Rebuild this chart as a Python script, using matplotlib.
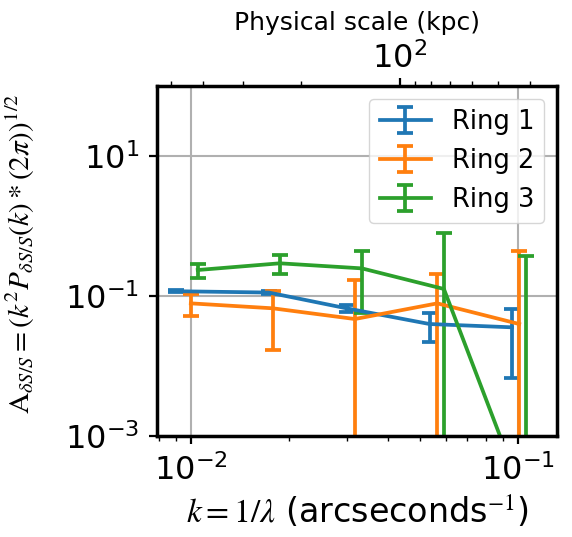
import numpy as np
import matplotlib
matplotlib.use("Agg")
import matplotlib.pyplot as plt
from matplotlib.ticker import LogLocator, NullLocator, NullFormatter

# ── Data ─────────────────────────────────────────────────────────────────────
k_ring1   = [0.0090, 0.0173, 0.0299, 0.0536, 0.0957]
amp_ring1 = [0.117, 0.112, 0.0667, 0.0398, 0.0357]
err_ring1 = [0.004, 0.004, 0.008, 0.018, 0.029]

k_ring2   = [0.0100, 0.0178, 0.0317, 0.0566, 0.1007]
amp_ring2 = [0.0785, 0.0667, 0.0469, 0.0785, 0.0398]
err_ring2 = [0.027, 0.050, 0.122, 0.128, 0.40]

k_ring3   = [0.0105, 0.0187, 0.0333, 0.0593, 0.1054]
amp_ring3 = [0.235, 0.293, 0.248, 0.126, 0.00011]
err_ring3 = [0.055, 0.09, 0.19, 0.676, 0.37]

labels = ["Ring 1", "Ring 2", "Ring 3"]
top_ticks = [100]
KPC_PER_ARCSEC = 4.345   # k (1/arcsec) -> physical scale (kpc)

plt.rcParams["mathtext.fontset"] = "stix"

fig = plt.figure(figsize=(5.72, 5.37), dpi=100)
ax = fig.add_axes([0.275, 0.188, 0.699, 0.652])

series = [(k_ring1, amp_ring1, err_ring1),
          (k_ring2, amp_ring2, err_ring2),
          (k_ring3, amp_ring3, err_ring3)]
for (k, a, e), lab in zip(series, labels):
    ax.errorbar(k, a, yerr=e, label=lab, linewidth=2.7, elinewidth=2.7,
                capsize=6, capthick=2.7)

ax.set_xscale("log")
ax.set_yscale("log")
ax.set_xlim(0.0079, 0.1315)
ax.set_ylim(1e-3, 1e2)
ax.set_yticks([1e-3, 1e-1, 1e1])
ax.yaxis.set_minor_locator(NullLocator())
ax.xaxis.set_minor_locator(LogLocator(subs=np.arange(2, 10)))
ax.xaxis.set_minor_formatter(NullFormatter())
ax.grid(True, which="major", color="#b0b0b0", linewidth=1.5)

ax.tick_params(which="major", labelsize=23, length=6, width=1.6, pad=7)
ax.tick_params(which="minor", length=3.5, width=1.0)
for sp in ax.spines.values():
    sp.set_linewidth(2.5)

ax.set_xlabel(r"$k=1/\lambda$ (arcseconds$^{-1}$)", fontsize=24, labelpad=5)
ax.set_ylabel(r"$\mathrm{A}_{\delta S/S}=(k^2 P_{\delta S/S}(k)*(2\pi))^{1/2}$",
              fontsize=21)
ax.yaxis.set_label_coords(-0.30, 0.52)

top = ax.secondary_xaxis("top", functions=(lambda k: KPC_PER_ARCSEC / k,
                                           lambda p: KPC_PER_ARCSEC / p))
top.set_xticks(top_ticks)
top.xaxis.set_minor_locator(LogLocator(subs=np.arange(2, 10)))
top.xaxis.set_minor_formatter(NullFormatter())
top.tick_params(which="major", labelsize=23, length=6, width=1.6, pad=2)
top.tick_params(which="minor", length=3.5, width=1.0)
top.set_xlabel("Physical scale (kpc)", fontsize=18, labelpad=9)

ax.legend(loc="upper right", fontsize=18.5, handlelength=2.0)

fig.savefig("out.png", dpi=100)
